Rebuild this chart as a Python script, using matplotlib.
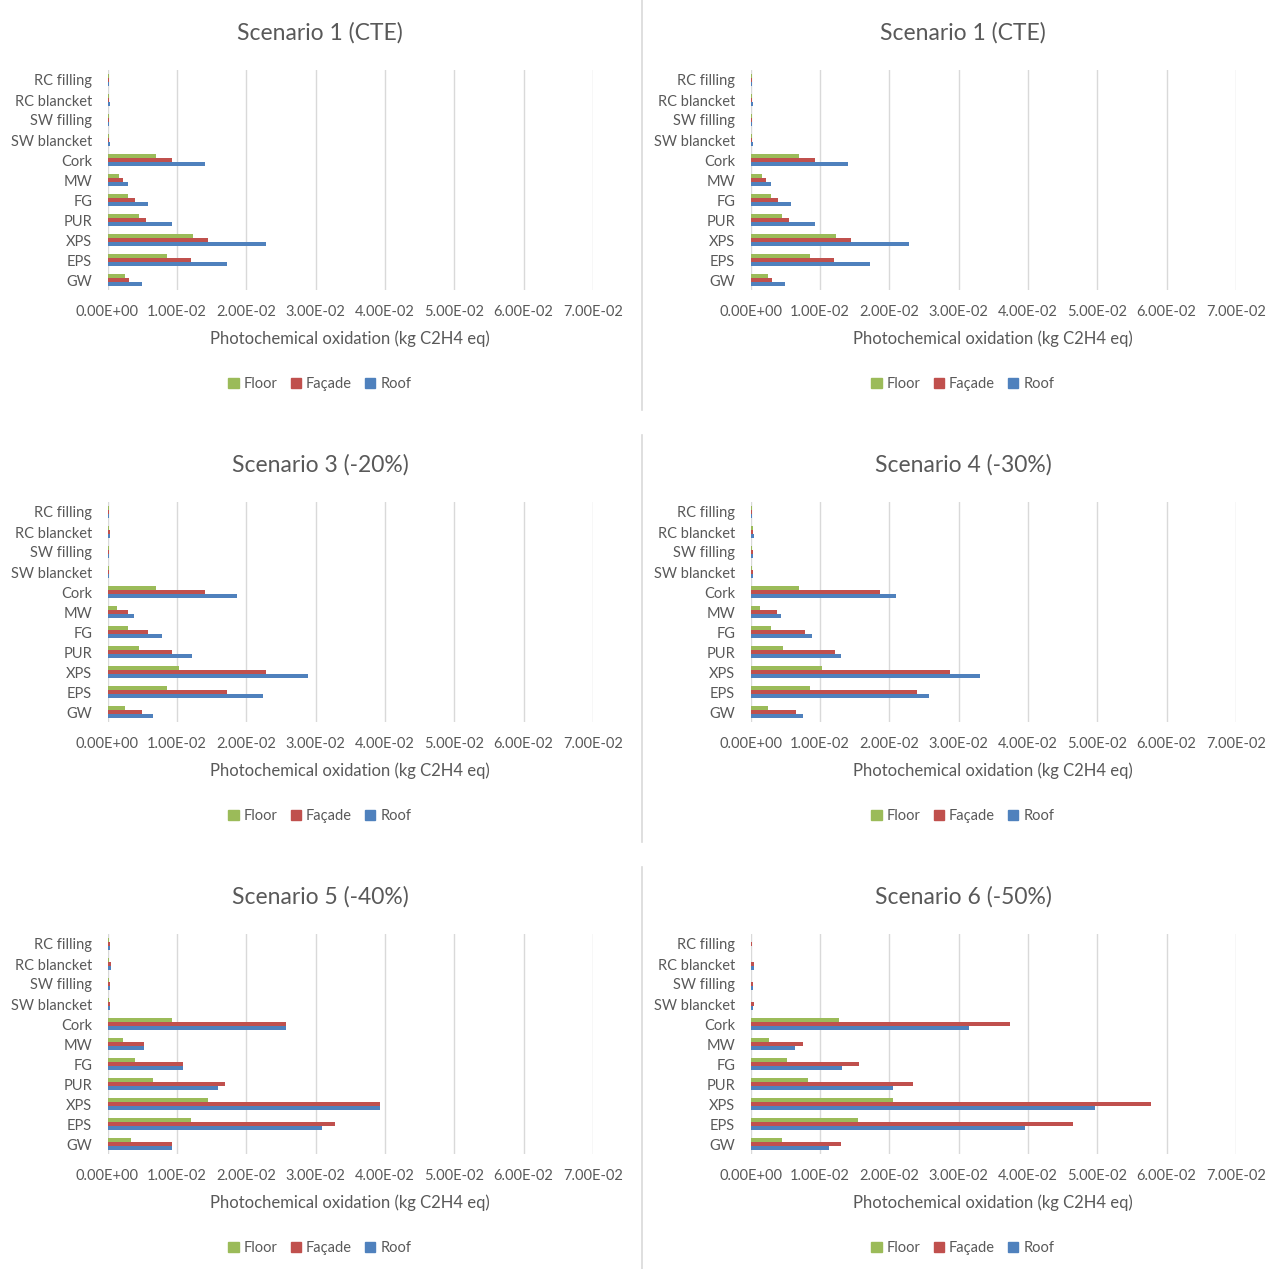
import matplotlib
matplotlib.use("Agg")
import matplotlib.pyplot as plt
from matplotlib.patches import Patch
from matplotlib.lines import Line2D
from matplotlib.ticker import FuncFormatter
import numpy as np

plt.rcParams['font.family'] = ['Lato', 'DejaVu Sans']

# categories listed bottom -> top (GW is drawn at the bottom)
materials = ['GW', 'EPS', 'XPS', 'PUR', 'FG', 'MW', 'Cork',
             'SW blancket', 'SW filling', 'RC blancket', 'RC filling']

titles = ['Scenario 1 (CTE)', 'Scenario 1 (CTE)', 'Scenario 3 (-20%)',
          'Scenario 4 (-30%)', 'Scenario 5 (-40%)', 'Scenario 6 (-50%)']

# kg C2H4 eq, same order as materials
s1_floor = [0.0025, 0.00858, 0.01234, 0.0046, 0.0030, 0.0017, 0.0070, 0.0002, 0.0002, 0.00025, 0.0002]
s1_facade = [0.0031, 0.0121, 0.01446, 0.0056, 0.0040, 0.0022, 0.00935, 0.0002, 0.0002, 0.00025, 0.0002]
s1_roof = [0.0050, 0.01725, 0.0228, 0.00935, 0.0058, 0.0030, 0.01407, 0.0003, 0.0002, 0.0004, 0.0002]

s2_floor = [0.0025, 0.00858, 0.01234, 0.0046, 0.0030, 0.0017, 0.0070, 0.0002, 0.0002, 0.00025, 0.0002]
s2_facade = [0.0031, 0.0121, 0.01446, 0.0056, 0.0040, 0.0022, 0.00935, 0.0002, 0.0002, 0.00025, 0.0002]
s2_roof = [0.0050, 0.01725, 0.0228, 0.00935, 0.0058, 0.0030, 0.01407, 0.0003, 0.0002, 0.0004, 0.0002]

s3_floor = [0.0025, 0.00858, 0.0103, 0.0046, 0.0030, 0.00135, 0.0070, 0.0002, 0.0002, 0.0002, 0.0002]
s3_facade = [0.0050, 0.01725, 0.0228, 0.00935, 0.0058, 0.0030, 0.01407, 0.00025, 0.0002, 0.00035, 0.0002]
s3_roof = [0.0066, 0.0224, 0.0289, 0.0122, 0.00786, 0.00386, 0.0187, 0.00025, 0.00025, 0.0004, 0.0002]

s4_floor = [0.00254, 0.00859, 0.01032, 0.00475, 0.0030, 0.00134, 0.00696, 0.0002, 0.0002, 0.0003, 0.0002]
s4_facade = [0.00663, 0.0240, 0.0288, 0.01215, 0.00783, 0.00384, 0.01863, 0.0004, 0.0003, 0.0004, 0.0002]
s4_roof = [0.0075, 0.0258, 0.0331, 0.01306, 0.00883, 0.00437, 0.0210, 0.0004, 0.0003, 0.0005, 0.0002]

s5_floor = [0.00337, 0.01208, 0.01449, 0.0066, 0.0040, 0.00226, 0.00934, 0.0002, 0.0002, 0.00025, 0.0002]
s5_facade = [0.00934, 0.03274, 0.03934, 0.01695, 0.01083, 0.00525, 0.02576, 0.00035, 0.00035, 0.0005, 0.0003]
s5_roof = [0.00934, 0.03096, 0.03934, 0.01594, 0.01083, 0.00525, 0.02576, 0.00035, 0.00035, 0.0005, 0.0003]

s6_floor = [0.00451, 0.01543, 0.02051, 0.00829, 0.0053, 0.00263, 0.01269, 0.0001, 0.0001, 0.0001, 0.0001]
s6_facade = [0.01309, 0.04646, 0.05777, 0.02343, 0.01566, 0.0076, 0.03737, 0.00046, 0.0003, 0.00057, 0.00023]
s6_roof = [0.01137, 0.0396, 0.0496, 0.02051, 0.01314, 0.00646, 0.03154, 0.0003, 0.0003, 0.00046, 0.0001]

floor = [s1_floor, s2_floor, s3_floor, s4_floor, s5_floor, s6_floor]
facade = [s1_facade, s2_facade, s3_facade, s4_facade, s5_facade, s6_facade]
roof = [s1_roof, s2_roof, s3_roof, s4_roof, s5_roof, s6_roof]

GREEN, RED, BLUE = '#9BBB59', '#C0504D', '#4F81BD'
GREY_TXT = '#595959'
GRID = '#D9D9D9'

W, H = 1281, 1269
fig = plt.figure(figsize=(W / 100, H / 100), dpi=100)

y = np.arange(len(materials))
bh = 0.21

for i in range(6):
    col, row = i % 2, i // 2
    x0 = 0 if col == 0 else 643           # panel left edge (px)
    y0 = row * 432                        # panel top edge (px)
    ax_left = x0 + 107.5
    ax_top = y0 + 70
    ax = fig.add_axes([ax_left / W, 1 - (ax_top + 220) / H, 485.5 / W, 220 / H])

    ax.barh(y + bh, floor[i], height=bh, color=GREEN, zorder=3)
    ax.barh(y, facade[i], height=bh, color=RED, zorder=3)
    ax.barh(y - bh, roof[i], height=bh, color=BLUE, zorder=3)

    ax.set_xlim(0, 0.07)
    ax.set_ylim(-0.5, len(materials) - 0.5)
    ax.set_xticks(np.arange(0, 0.0701, 0.01))
    ax.xaxis.set_major_formatter(FuncFormatter(lambda v, p: f"{v:.2E}"))
    ax.set_yticks(y)
    ax.set_yticklabels(materials)
    ax.tick_params(axis='both', length=0, labelsize=10.5, labelcolor=GREY_TXT)
    ax.tick_params(axis='y', pad=11)
    ax.tick_params(axis='x', pad=11)
    ax.grid(axis='x', color=GRID, linewidth=1, zorder=0)
    for s in ax.spines.values():
        s.set_visible(False)
    ax.set_xlabel('Photochemical oxidation (kg C2H4 eq)', fontsize=12,
                  color=GREY_TXT, labelpad=8)

    cx = (x0 + 320) / W
    fig.text(cx, 1 - (y0 + 33) / H, titles[i], ha='center', va='center',
             fontsize=16.5, color=GREY_TXT)

    handles = [Patch(color=GREEN, label='Floor'),
               Patch(color=RED, label='Façade'),
               Patch(color=BLUE, label='Roof')]
    fig.legend(handles=handles, loc='center', ncol=3,
               bbox_to_anchor=(cx, 1 - (y0 + 384) / H), frameon=False,
               fontsize=10.5, labelcolor=GREY_TXT, handlelength=0.7,
               handleheight=0.7, handletextpad=0.35, columnspacing=0.9)

# thin separators between the left and right charts
for top, bot in [(0, 410), (435, 842), (867, 1269)]:
    fig.add_artist(Line2D([641.5 / W, 641.5 / W], [1 - top / H, 1 - bot / H],
                          color=GRID, linewidth=1.2))

fig.savefig('out.png', dpi=100, facecolor='white')
